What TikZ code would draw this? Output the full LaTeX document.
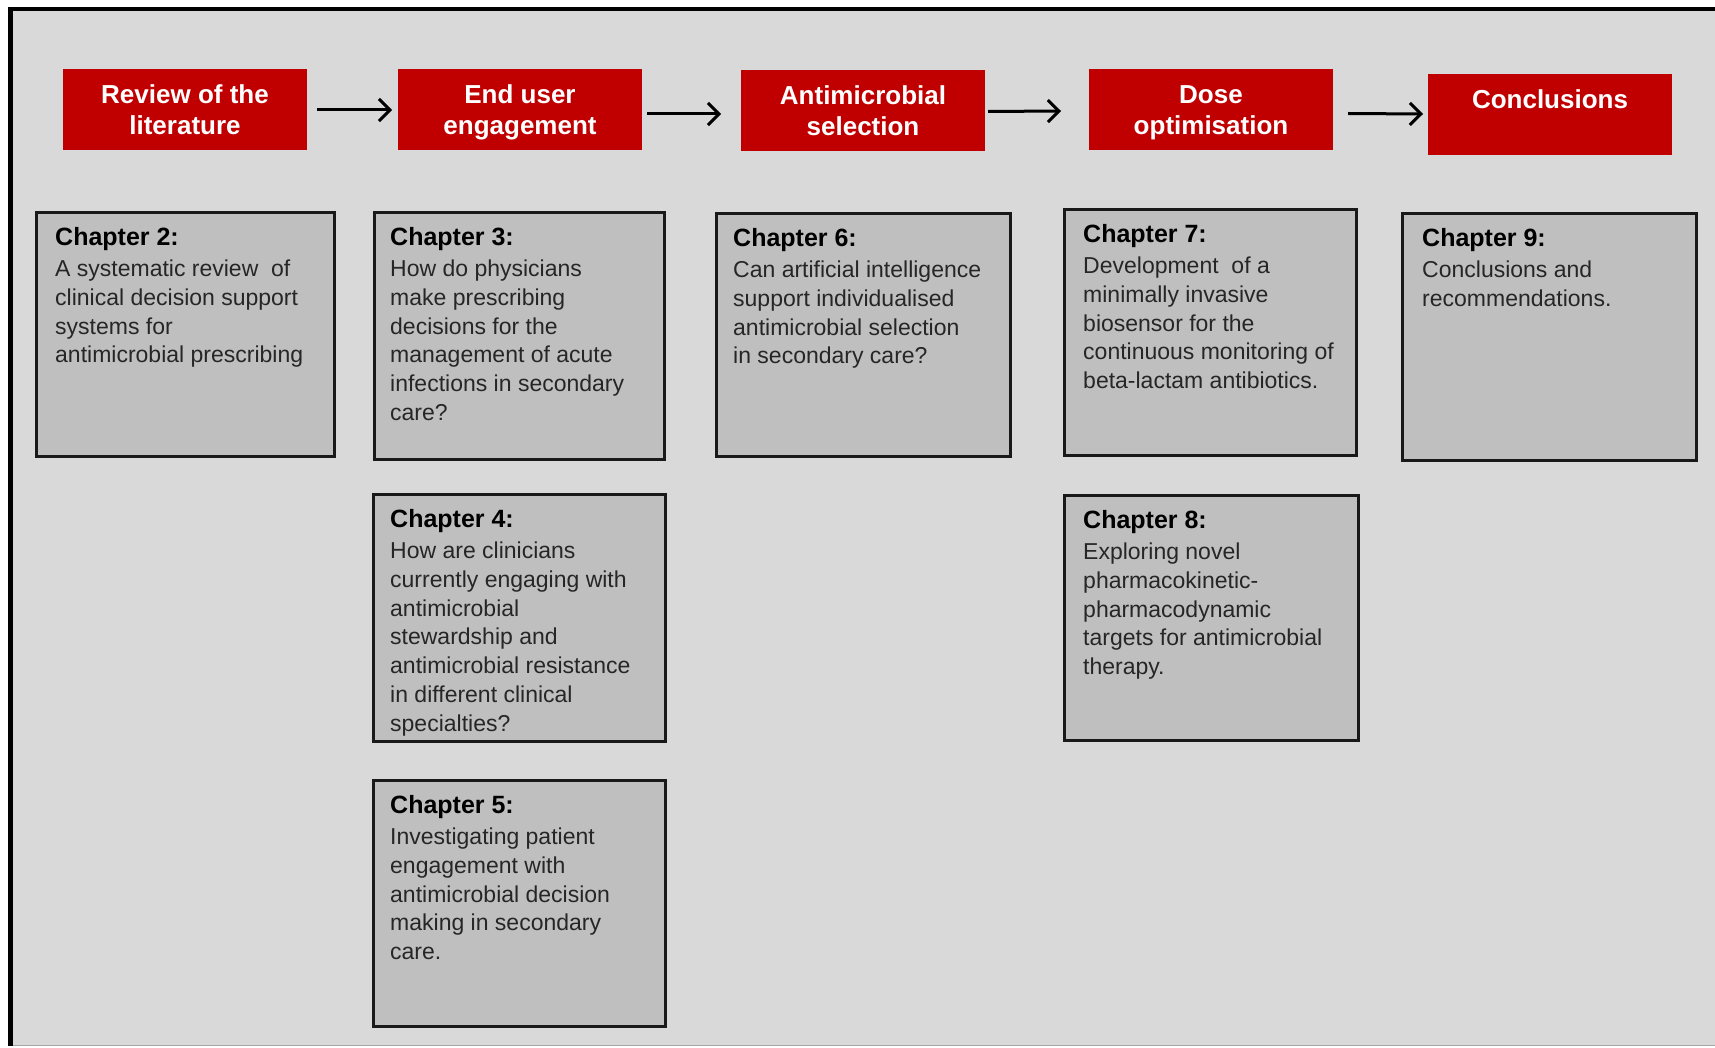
\documentclass[tikz,border=0pt]{standalone}
\usepackage{fontspec}
\setmainfont{Liberation Sans}
\usetikzlibrary{arrows.meta}
\definecolor{bgfill}{HTML}{D9D9D9}
\definecolor{boxgray}{HTML}{BFBFBF}
\definecolor{darkred}{HTML}{C00000}
\begin{document}
\begin{tikzpicture}[x=1pt,y=-1pt,
  redbox/.style={fill=darkred, draw=none, inner sep=0pt, outer sep=0pt, minimum width=244pt, minimum height=81pt,
    anchor=north west, text=white, font=\bfseries\fontsize{26}{31.5}\selectfont, align=center},
  chapbox/.style={fill=boxgray, draw=black!90, line width=3pt, inner sep=0pt, anchor=north west},
  chaptext/.style={anchor=north west, inner sep=0pt, align=left,
    font=\fontsize{23}{28.7}\selectfont, text=black!85},
  arr/.style={line width=3pt, -{Straight Barb[length=11pt,width=22pt,line width=3pt]}}]
\useasboundingbox (0,0) rectangle (1715,1048);
\fill[white] (0,0) rectangle (1715,1048);
% frame
\fill[bgfill] (10,9) rectangle (1715,1046);
\draw[gray!70, line width=1.2pt] (10,1045.5) -- (1715,1045.5);
\draw[black, line width=4.5pt] (10.5,1046) -- (10.5,9) -- (1715,9);

\newcommand{\rl}[1]{\smash{#1}\vphantom{Al}}
% red stage boxes
\node[redbox] (r1) at (63,69)   {\rl{Review of the}\\\rl{literature}};
\node[redbox] (r2) at (398,69)  {\rl{End user}\\\rl{engagement}};
\node[redbox] (r3) at (741,70)  {\rl{Antimicrobial}\\\rl{selection}};
\node[redbox] (r4) at (1089,69) {\rl{Dose}\\\rl{optimisation}};
\node[redbox] (r5) at (1428,74) {\rl{Conclusions}\\\rl{}};

% arrows
\draw[arr] ([shift={(10,0.5)}]r1.east) -- ([shift={(-6,0.5)}]r2.west);
\draw[arr] ([shift={(5,4.5)}]r2.east) -- ([shift={(-20,3.5)}]r3.west);
\draw[arr] ([shift={(3,1)}]r3.east) -- ([shift={(-28,1.5)}]r4.west);
\draw[arr] ([shift={(15,4)}]r4.east) -- ([shift={(-5,-0.5)}]r5.west);

% chapter boxes (anchor north west = outer edge of the border)
\node[chapbox, minimum width=298pt, minimum height=244pt] (c2) at (35,211) {};
\node[chapbox, minimum width=290pt, minimum height=247pt] (c3) at (373,211) {};
\node[chapbox, minimum width=292pt, minimum height=247pt] (c4) at (372,493) {};
\node[chapbox, minimum width=292pt, minimum height=246pt] (c5) at (372,779) {};
\node[chapbox, minimum width=294pt, minimum height=243pt] (c6) at (715,212) {};
\node[chapbox, minimum width=292pt, minimum height=246pt] (c7) at (1063,208) {};
\node[chapbox, minimum width=294pt, minimum height=245pt] (c8) at (1063,494) {};
\node[chapbox, minimum width=294pt, minimum height=247pt] (c9) at (1401,212) {};

\newcommand{\chtitle}[1]{{\bfseries\fontsize{25}{25}\selectfont\color{black}#1}\\[2.8pt]}

\node[chaptext] (t2) at ([shift={(20,16)}]c2.north west)
  {\chtitle{Chapter 2:}A systematic review\ \ of\\clinical decision support\\systems for\\antimicrobial prescribing};
\node[chaptext] (t3) at ([shift={(17,16)}]c3.north west)
  {\chtitle{Chapter 3:}How do physicians\\make prescribing\\decisions for the\\management of acute\\infections in secondary\\care?};
\node[chaptext] (t4) at ([shift={(18,16)}]c4.north west)
  {\chtitle{Chapter 4:}How are clinicians\\currently engaging with\\antimicrobial\\stewardship and\\antimicrobial resistance\\in different clinical\\specialties?};
\node[chaptext] (t5) at ([shift={(18,16)}]c5.north west)
  {\chtitle{Chapter 5:}Investigating patient\\engagement with\\antimicrobial decision\\making in secondary\\care.};
\node[chaptext] (t6) at ([shift={(18,16)}]c6.north west)
  {\chtitle{Chapter 6:}Can artificial intelligence\\support individualised\\antimicrobial selection\\in secondary care?};
\node[chaptext] (t7) at ([shift={(20,16)}]c7.north west)
  {\chtitle{Chapter 7:}Development\ \ of a\\minimally invasive\\biosensor for the\\continuous monitoring of\\beta-lactam antibiotics.};
\node[chaptext] (t8) at ([shift={(20,16)}]c8.north west)
  {\chtitle{Chapter 8:}Exploring novel\\pharmacokinetic-\\pharmacodynamic\\targets for antimicrobial\\therapy.};
\node[chaptext] (t9) at ([shift={(21,16)}]c9.north west)
  {\chtitle{Chapter 9:}Conclusions and\\recommendations.};
\end{tikzpicture}
\end{document}
